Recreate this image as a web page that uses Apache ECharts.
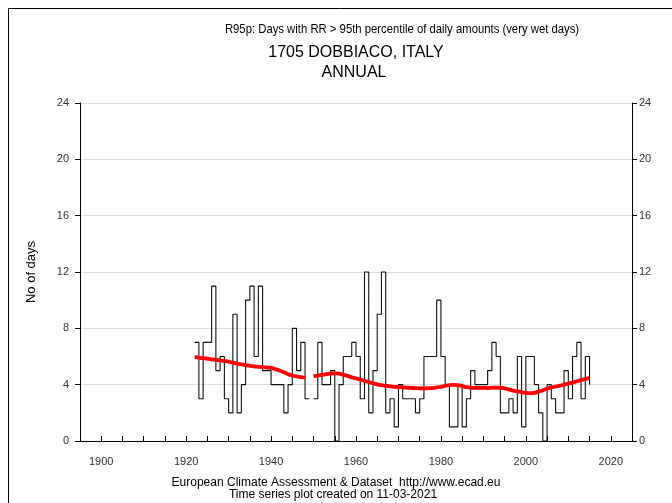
<!DOCTYPE html>
<html>
<head>
<meta charset="utf-8">
<script src="https://cdn.jsdelivr.net/npm/echarts@6/dist/echarts.min.js"></script>
<style>
  html, body { margin: 0; padding: 0; background: #fff; }
  #chart { width: 672px; height: 503px; }
</style>
</head>
<body>
<div id="chart"></div>
<script>
// R95p annual counts, Dobbiaco (1922-2015); null = missing year
const firstYear = 1922;
const r95pDays = [
  7, 3, 7, 7, 11, 5, 6, 3, 2, 9,        // 1922-1931
  2, 4, 10, 11, 6, 11, 5, 5, 4, 4,      // 1932-1941
  4, 2, 4, 8, 5, 7, 3, null, 3, 7,      // 1942-1951
  4, 4, 5, 0, 4, 6, 6, 7, 6, 3,         // 1952-1961
  12, 2, 5, 9, 12, 2, 3, 1, 4, 3,       // 1962-1971
  3, 3, 2, 3, 6, 6, 6, 10, 6, 4,        // 1972-1981
  1, 1, 4, 1, 3, 5, 4, 4, 4, 5,         // 1982-1991
  7, 6, 2, 2, 3, 2, 6, 1, 6, 6,         // 1992-2001
  4, 2, 0, 4, 3, 2, 2, 5, 3, 6,         // 2002-2011
  7, 3, 6, 4                            // 2012-2015
];
// smoothed trend of the same series
const r95pTrend = [
  5.95, 5.92, 5.88, 5.84, 5.80, 5.77, 5.73, 5.68, 5.63, 5.56,
  5.50, 5.44, 5.39, 5.34, 5.30, 5.27, 5.24, 5.22, 5.20, 5.10,
  5.00, 4.88, 4.75, 4.65, 4.58, 4.54, 4.52, null, 4.60, 4.65,
  4.70, 4.75, 4.78, 4.80, 4.78, 4.70, 4.62, 4.52, 4.45, 4.36,
  4.27, 4.18, 4.10, 4.02, 3.96, 3.92, 3.88, 3.85, 3.83, 3.81,
  3.79, 3.77, 3.75, 3.74, 3.74, 3.75, 3.76, 3.80, 3.85, 3.92,
  3.97, 3.98, 3.96, 3.90, 3.82, 3.78, 3.77, 3.77, 3.77, 3.76,
  3.78, 3.79, 3.78, 3.74, 3.66, 3.58, 3.52, 3.46, 3.42, 3.40,
  3.42, 3.50, 3.60, 3.72, 3.80, 3.87, 3.93, 4.00, 4.07, 4.15,
  4.23, 4.32, 4.40, 4.48
];
const yTicks = [0, 4, 8, 12, 16, 20, 24];

const titleLines = [
  'R95p: Days with RR > 95th percentile of daily amounts (very wet days)',
  '1705 DOBBIACO, ITALY',
  'ANNUAL'
];
const footerLines = [
  'European Climate Assessment & Dataset  http://www.ecad.eu',
  'Time series plot created on 11-03-2021'
];

const toPairs = arr => arr.map((v, i) => [firstYear + i, v == null ? '-' : v]);

const FONT = "'Liberation Sans', Arial, sans-serif";
const chart = echarts.init(document.getElementById('chart'), null, { renderer: 'canvas' });

const yAxisBase = {
  type: 'value',
  min: yTicks[0],
  max: yTicks[yTicks.length - 1],
  interval: 4,
  axisLine: { show: true, lineStyle: { color: '#000', width: 1 } },
  axisTick: { show: true, inside: false, length: 5, lineStyle: { color: '#000' } },
  axisLabel: { color: '#333', fontSize: 11, fontFamily: FONT, margin: 7 }
};

chart.setOption({
  animation: false,
  backgroundColor: '#fff',
  grid: { left: 80, top: 103, width: 552, height: 338, containLabel: false },
  xAxis: {
    type: 'value',
    min: 1895,
    max: 2025,
    interval: 5,
    axisLine: { show: true, onZero: false, lineStyle: { color: '#000', width: 1 } },
    axisTick: { show: true, inside: true, length: 5, lineStyle: { color: '#000' } },
    axisLabel: {
      color: '#333', fontSize: 11, fontFamily: FONT, margin: 15,
      showMinLabel: false, showMaxLabel: false,
      formatter: v => (v % 20 === 0 ? String(v) : '')
    },
    splitLine: { show: false }
  },
  yAxis: [
    Object.assign({}, yAxisBase, {
      position: 'left',
      name: 'No of days',
      nameLocation: 'middle',
      nameRotate: 90,
      nameGap: 42,
      nameTextStyle: { color: '#000', fontSize: 13, fontFamily: FONT },
      axisLabel: { color: '#333', fontSize: 11, fontFamily: FONT, margin: 11 },
      splitLine: { show: true, lineStyle: { color: '#dcdcdc', width: 1 } }
    }),
    Object.assign({}, yAxisBase, {
      position: 'right',
      splitLine: { show: false }
    })
  ],
  series: [
    {
      type: 'line',
      step: 'end',
      data: toPairs(r95pDays),
      showSymbol: false,
      symbol: 'none',
      connectNulls: false,
      lineStyle: { color: '#111', width: 1.1 },
      z: 2
    },
    {
      type: 'line',
      data: toPairs(r95pTrend),
      showSymbol: false,
      symbol: 'none',
      smooth: 0.3,
      connectNulls: false,
      lineStyle: { color: '#ff0000', width: 3.8 },
      z: 3
    }
  ],
  graphic: [
    {
      type: 'rect', silent: true,
      shape: { x: 8.5, y: 8.5, width: 700, height: 600 },
      style: { fill: 'none', stroke: '#000', lineWidth: 1 }
    },
    {
      type: 'text', x: 402, y: 29, scaleX: 0.87,
      style: { text: titleLines[0], font: '13px ' + FONT, fill: '#000', textAlign: 'center', textVerticalAlign: 'middle' }
    },
    {
      type: 'text', x: 356, y: 53,
      style: { text: titleLines[1], font: '16px ' + FONT, fill: '#000', textAlign: 'center', textVerticalAlign: 'middle' }
    },
    {
      type: 'text', x: 354, y: 73,
      style: { text: titleLines[2], font: '16px ' + FONT, fill: '#000', textAlign: 'center', textVerticalAlign: 'middle' }
    },
    {
      type: 'text', x: 336, y: 483,
      style: { text: footerLines[0], font: '12px ' + FONT, fill: '#000', textAlign: 'center', textVerticalAlign: 'middle' }
    },
    {
      type: 'text', x: 333, y: 495,
      style: { text: footerLines[1], font: '12px ' + FONT, fill: '#000', textAlign: 'center', textVerticalAlign: 'middle' }
    }
  ]
});
</script>
</body>
</html>
